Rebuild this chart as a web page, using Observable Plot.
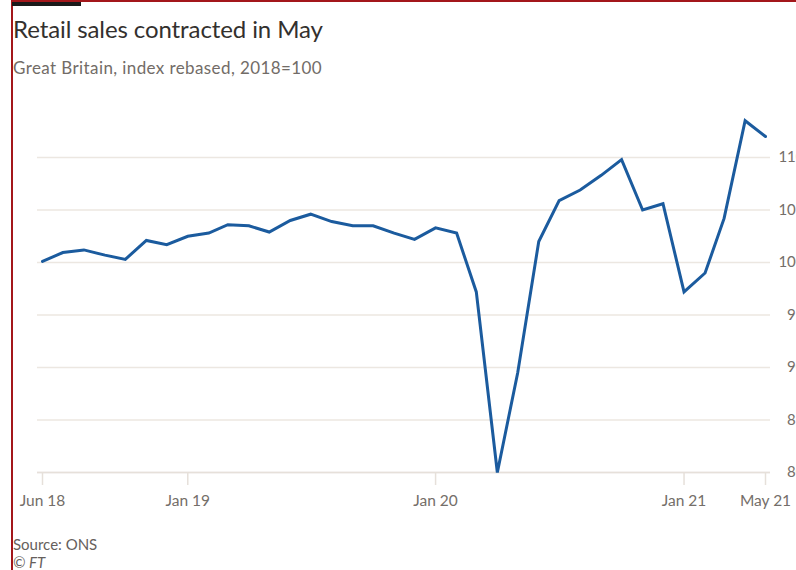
<!DOCTYPE html>
<html>
<head>
<meta charset="utf-8">
<script src="https://cdn.jsdelivr.net/npm/d3@7"></script>
<script src="https://cdn.jsdelivr.net/npm/@observablehq/plot@0.6"></script>
<style>
  html, body { margin: 0; padding: 0; background: #fff; overflow: hidden; width: 796px; height: 570px; }
  #wrap { position: relative; width: 796px; height: 570px; overflow: hidden; font-family: Lato, "Noto Sans", sans-serif; }
  #frameTop { position: absolute; left: 11px; top: 0; width: 785px; height: 2px; background: #a3171b; }
  #frameLeft { position: absolute; left: 11px; top: 0; width: 2px; height: 570px; background: #a3171b; }
  #bar { position: absolute; left: 12px; top: 2px; width: 69px; height: 4px; background: #1a1a1a; }
  #title { position: absolute; left: 13px; top: 14px; font-size: 24px; color: #33302e; white-space: nowrap; letter-spacing: -0.1px; }
  #subtitle { position: absolute; left: 13px; top: 57px; font-size: 17px; color: #726c67; white-space: nowrap; letter-spacing: 0.4px; }
  #chart { position: absolute; left: 0; top: 85px; }
  #source { position: absolute; left: 13px; top: 535px; font-size: 15px; color: #66605c; white-space: nowrap; }
  #ft { position: absolute; left: 13px; top: 553px; font-size: 15px; color: #66605c; font-style: italic; white-space: nowrap; }
</style>
</head>
<body>
<div id="wrap">
  <div id="frameTop"></div>
  <div id="frameLeft"></div>
  <div id="bar"></div>
  <div id="title">Retail sales contracted in May</div>
  <div id="subtitle">Great Britain, index rebased, 2018=100</div>
  <div id="chart"></div>
  <div id="source">Source: ONS</div>
  <div id="ft">© FT</div>
</div>
<script>
const months = [
  "2018-06","2018-07","2018-08","2018-09","2018-10","2018-11","2018-12",
  "2019-01","2019-02","2019-03","2019-04","2019-05","2019-06","2019-07","2019-08","2019-09","2019-10","2019-11","2019-12",
  "2020-01","2020-02","2020-03","2020-04","2020-05","2020-06","2020-07","2020-08","2020-09","2020-10","2020-11","2020-12",
  "2021-01","2021-02","2021-03","2021-04","2021-05"
];
const salesIndex = [
  100.1, 100.95, 101.2, 100.7, 100.3, 102.1, 101.7,
  102.5, 102.8, 103.6, 103.5, 102.9, 104.0, 104.6, 103.9, 103.5, 103.5, 102.8, 102.2,
  103.3, 102.8, 97.2, 80.0, 89.5, 102.0, 105.9, 106.9, 108.3, 109.8, 105.0, 105.6,
  97.2, 99.0, 104.2, 113.5, 112.0
];
const xTickMonths = ["2018-06", "2019-01", "2020-01", "2021-01", "2021-05"];
const yTicks = [80, 85, 90, 95, 100, 105, 110];

const parse = d3.utcParse("%Y-%m");
const data = months.map((m, i) => ({date: parse(m), value: salesIndex[i]}));
const xTicks = xTickMonths.map(parse);
const fmt = d3.utcFormat("%b %y");

const gridColor = "#ece7e1";
const textColor = "#746e69";

const chart = Plot.plot({
  width: 796,
  height: 430,
  marginLeft: 37,
  marginRight: 26,
  marginTop: 30,
  marginBottom: 43,
  style: {fontFamily: "Lato, 'Noto Sans', sans-serif", fontSize: "15px", background: "transparent", overflow: "visible"},
  x: {type: "utc", domain: [parse("2018-06"), parse("2021-05")], inset: 5},
  y: {domain: [80, 114]},
  marks: [
    Plot.gridY(yTicks, {stroke: gridColor, strokeOpacity: 1, strokeWidth: 1.5}),
    Plot.ruleY([80], {stroke: "#e6e0da", strokeWidth: 1.5}),
    Plot.axisY(yTicks, {anchor: "right", tickSize: 0, tickPadding: 34, textAnchor: "end", fontSize: 15, fill: textColor, label: null}),
    Plot.axisX(xTicks, {tickSize: 13, tickPadding: 0, stroke: "#e6e0da", strokeWidth: 1.5, text: null, label: null}),
    Plot.axisX(xTicks, {tickSize: 0, tickPadding: 22, tickFormat: fmt, fill: textColor, fontSize: 15.5, label: null}),
    Plot.line(data, {x: "date", y: "value", stroke: "#1b5b9e", strokeWidth: 3, strokeLinejoin: "miter", strokeMiterlimit: 2})
  ]
});
document.getElementById("chart").appendChild(chart);
</script>
</body>
</html>
